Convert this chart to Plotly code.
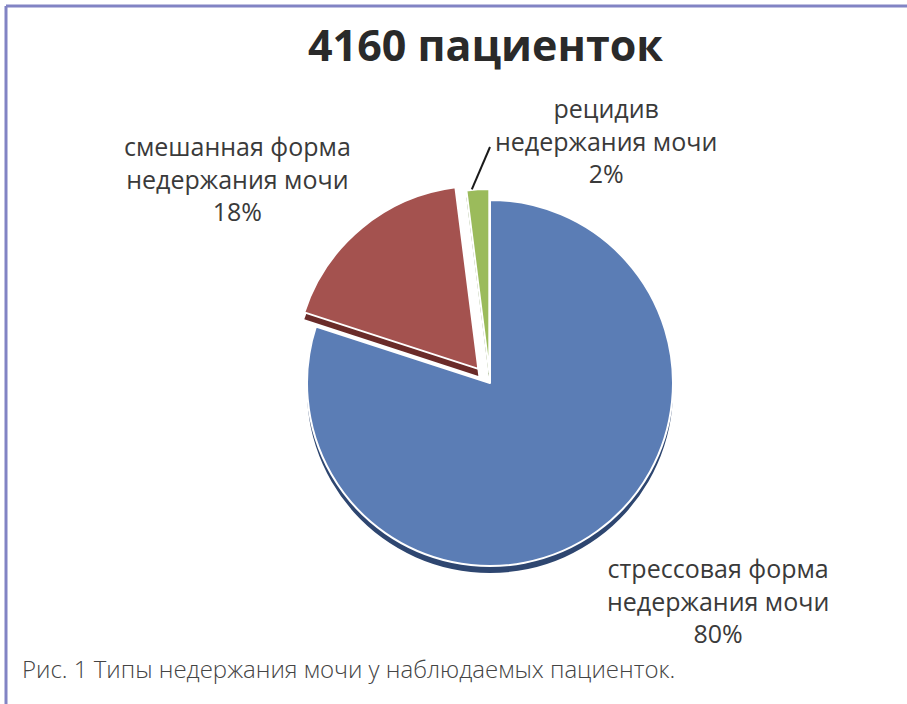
import math
import plotly.graph_objects as go

# ---- data ----
categories = ["стрессовая форма недержания мочи",
              "смешанная форма недержания мочи",
              "рецидив недержания мочи"]
label_lines = [["стрессовая форма", "недержания мочи"],
               ["смешанная форма", "недержания мочи"],
               ["рецидив", "недержания мочи"]]
percents = [80, 18, 2]
pulls = [0.0, 0.1, 0.06]
title_text = "4160 пациенток"
caption_text = "Рис. 1 Типы недержания мочи у наблюдаемых пациенток."

# ---- styling ----
W, H = 907, 704
face_colors = ["#5b7db5", "#a4524f", "#9bbb5b"]
side_colors = ["#2e4670", "#6a2b29", "#5c7a2e"]
frame_color = "#8284c4"
text_color = "#3a3a3a"

cx, cy = 490, 383          # pie centre, px
radius = 183               # pie radius, px
depth = 7                  # thickness of the 3-D rim, px
half = radius * (1 + max(pulls))


def px_x(x):
    return x / W


def px_y(y):
    return 1 - y / H


dom_x = [px_x(cx - half), px_x(cx + half)]
dom_y = [px_y(cy + half), px_y(cy - half)]
dom_y_side = [px_y(cy + half + depth), px_y(cy - half + depth)]

fig = go.Figure()

# darker copy underneath gives the slices their thickness
fig.add_trace(go.Pie(
    labels=categories, values=percents, pull=pulls,
    sort=False, direction="clockwise", rotation=0,
    marker=dict(colors=side_colors, line=dict(width=0)),
    textinfo="none", hoverinfo="skip", showlegend=False,
    domain=dict(x=dom_x, y=dom_y_side),
))

# top faces
fig.add_trace(go.Pie(
    labels=categories, values=percents, pull=pulls,
    sort=False, direction="clockwise", rotation=0,
    marker=dict(colors=face_colors, line=dict(color="white", width=2)),
    textinfo="none", hoverinfo="label+percent", showlegend=False,
    domain=dict(x=dom_x, y=dom_y),
))

label_font = dict(family="Open Sans, sans-serif", size=25, color=text_color)
label_pos = [(718, 600), (237, 178), (606, 140)]

annotations = []
for lines, pct, (lx, ly) in zip(label_lines, percents, label_pos):
    annotations.append(dict(
        x=px_x(lx), y=px_y(ly), xref="paper", yref="paper",
        text="<br>".join(lines + [f"{pct}%"]),
        showarrow=False, align="center", font=label_font,
        xanchor="center", yanchor="middle",
    ))

annotations.append(dict(
    x=px_x(485), y=px_y(44), xref="paper", yref="paper",
    text=f"<b>{title_text}</b>", showarrow=False,
    font=dict(family="Open Sans, sans-serif", size=43, color="#2a2a2a"),
    xanchor="center", yanchor="middle",
))

annotations.append(dict(
    x=px_x(20), y=px_y(668), xref="paper", yref="paper",
    text=caption_text, showarrow=False,
    font=dict(family="Open Sans, sans-serif", size=24, color="#444444",
              weight=300),
    xanchor="left", yanchor="middle",
))

# leader line from the small slice's outer edge up to its label
start_frac = sum(percents[:2]) / sum(percents)
mid_frac = start_frac + percents[2] / sum(percents) / 2
theta = 2 * math.pi * mid_frac
r_out = radius * (1 + pulls[2])
ex = cx + r_out * math.sin(theta) - 6
ey = cy - r_out * math.cos(theta)

shapes = [
    dict(type="line", xref="paper", yref="paper",
         x0=px_x(ex), y0=px_y(ey), x1=px_x(490), y1=px_y(147),
         line=dict(color="#1a1a1a", width=2)),
    # frame
    dict(type="line", xref="paper", yref="paper",
         x0=px_x(6), y0=px_y(6), x1=1, y1=px_y(6),
         line=dict(color=frame_color, width=3)),
    dict(type="line", xref="paper", yref="paper",
         x0=px_x(6), y0=px_y(6), x1=px_x(6), y1=0,
         line=dict(color=frame_color, width=3)),
]

fig.update_layout(
    width=W, height=H,
    margin=dict(l=0, r=0, t=0, b=0),
    paper_bgcolor="white", plot_bgcolor="white",
    annotations=annotations, shapes=shapes,
    showlegend=False,
)

fig.write_html("out.html")
